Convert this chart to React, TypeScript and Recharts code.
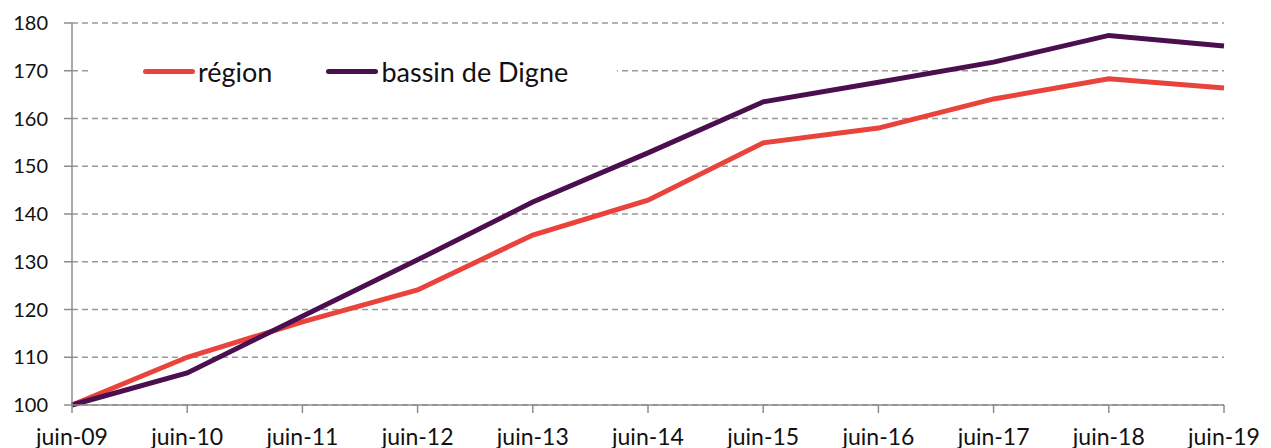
import { LineChart, Line, XAxis, YAxis, CartesianGrid } from 'recharts'

const months = ['juin-09', 'juin-10', 'juin-11', 'juin-12', 'juin-13', 'juin-14', 'juin-15', 'juin-16', 'juin-17', 'juin-18', 'juin-19']
const region = [100, 110.0, 117.4, 124.1, 135.6, 142.9, 154.9, 158.0, 164.1, 168.3, 166.4]
const digne = [100, 106.7, 118.6, 130.4, 142.5, 152.8, 163.5, 167.6, 171.8, 177.4, 175.2]
const yTicks = [100, 110, 120, 130, 140, 150, 160, 170, 180]
const seriesNames = ['région', 'bassin de Digne']
const seriesColors = ['#E9433C', '#4B0F50']

const data = months.map((m, i) => ({ month: m, region: region[i], digne: digne[i] }))

const FONT = 'Lato, Carlito, sans-serif'
const yTick = { fill: '#111', fontSize: 20, fontFamily: FONT, style: { fontSize: 20, fontFamily: FONT } }
const xTick = { fill: '#111', fontSize: 23, fontFamily: FONT, style: { fontSize: 23, fontFamily: FONT } }

export default function App() {
  return (
    <div style={{ position: 'absolute', left: 0, top: 0, width: 1271, height: 448, background: '#fff', overflow: 'hidden' }}>
      <LineChart width={1271} height={448} data={data} margin={{ top: 23, right: 47, left: 0, bottom: 0 }} style={{ fontFamily: FONT }}>
        <CartesianGrid horizontal vertical={false} stroke="#999" strokeDasharray="6 4" strokeWidth={1.5} />
        <XAxis
          dataKey="month"
          interval={0}
          height={43}
          tickSize={8}
          tickMargin={16}
          stroke="#8c8c8c"
          strokeWidth={1.5}
          tick={xTick}
        />
        <YAxis
          domain={[100, 180]}
          ticks={yTicks}
          width={72}
          tickSize={8}
          tickMargin={16}
          stroke="#8c8c8c"
          strokeWidth={1.5}
          tick={yTick}
        />
        <Line dataKey="region" name={seriesNames[0]} stroke={seriesColors[0]} strokeWidth={5} dot={false} isAnimationActive={false} />
        <Line dataKey="digne" name={seriesNames[1]} stroke={seriesColors[1]} strokeWidth={5} dot={false} isAnimationActive={false} />
      </LineChart>
      <div style={{ position: 'absolute', left: 88, top: 50, width: 529, height: 42, background: '#fff', display: 'flex', alignItems: 'center', fontFamily: FONT, fontSize: 27, color: '#111' }}>
        {seriesNames.map((n, i) => (
          <div key={n} style={{ display: 'flex', alignItems: 'center', marginLeft: i === 0 ? 55 : 54 }}>
            <span style={{ display: 'inline-block', width: 52, height: 5, borderRadius: 3, background: seriesColors[i], marginRight: 3 }} />
            <span>{n}</span>
          </div>
        ))}
      </div>
    </div>
  )
}
